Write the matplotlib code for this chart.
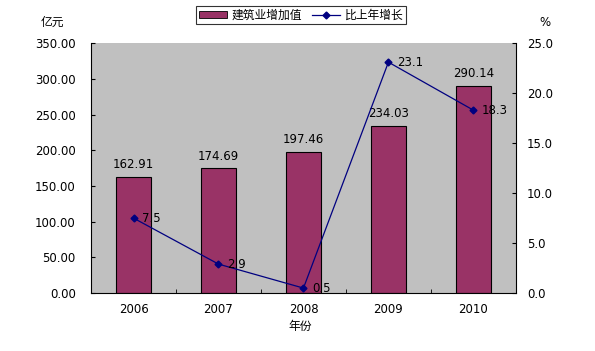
import matplotlib
matplotlib.use('Agg')
import matplotlib.pyplot as plt
from matplotlib.lines import Line2D
from matplotlib.patches import Patch
import numpy as np

plt.rcParams['font.family'] = ['DejaVu Sans', 'Noto Sans CJK SC']

years = ['2006', '2007', '2008', '2009', '2010']
value_added = [162.91, 174.69, 197.46, 234.03, 290.14]
growth = [7.5, 2.9, 0.5, 23.1, 18.3]

bar_color = '#993366'
line_color = '#000080'
fs = 8.5

fig = plt.figure(figsize=(5.95, 3.51), dpi=100)
ax = fig.add_axes([0.153, 0.165, 0.714, 0.712])
ax.set_facecolor('#C0C0C0')

x = np.arange(len(years))
ax.bar(x, value_added, width=0.41, color=bar_color, edgecolor='black', linewidth=0.8, zorder=2)
for xi, v in zip(x, value_added):
    ax.text(xi, v + 8, f'{v:.2f}', ha='center', va='bottom', fontsize=fs)

ax.set_xlim(-0.5, len(years) - 0.5)
ax.set_ylim(0, 350)
ax.set_yticks(np.arange(0, 351, 50))
ax.set_yticklabels([f'{t:.2f}' for t in np.arange(0, 351, 50)], fontsize=fs)
ax.set_xticks(x)
ax.set_xticklabels(years, fontsize=fs)
ax.tick_params(axis='x', length=0, pad=7)
ax.set_xticks(np.arange(0.5, len(years) - 1), minor=True)
ax.tick_params(axis='x', which='minor', length=3, direction='in')
ax.tick_params(axis='y', length=3, direction='in', pad=11)
for s in ['top', 'right']:
    ax.spines[s].set_visible(False)

ax2 = ax.twinx()
ax2.plot(x, growth, color=line_color, marker='D', markersize=3.5, linewidth=0.9, zorder=3)
for xi, g in zip(x, growth):
    ax2.text(xi + 0.1, g, f'{g}', ha='left', va='center', fontsize=fs)
ax2.set_ylim(0, 25)
ax2.set_yticks(np.arange(0, 26, 5))
ax2.set_yticklabels([f'{t:.1f}' for t in np.arange(0, 26, 5)], fontsize=fs)
ax2.tick_params(axis='y', length=3, direction='in', pad=8)
for s in ['top', 'left', 'bottom']:
    ax2.spines[s].set_visible(False)

fig.text(0.068, 0.935, '亿元', fontsize=fs, ha='left', va='center')
fig.text(0.916, 0.935, '%', fontsize=fs, ha='center', va='center')
fig.text(0.505, 0.07, '年份', fontsize=fs, ha='center', va='center')

handles = [Patch(facecolor=bar_color, edgecolor='black', linewidth=0.6),
           Line2D([0], [0], color=line_color, marker='D', markersize=3.5, linewidth=0.9)]
leg = fig.legend(handles, ['建筑业增加值', '比上年增长'], loc='center', bbox_to_anchor=(0.506, 0.957),
                 ncol=2, fontsize=fs, frameon=True, fancybox=False, edgecolor='black',
                 handlelength=2.4, handleheight=0.6, borderpad=0.2, columnspacing=0.8, handletextpad=0.4)
leg.get_frame().set_linewidth(0.8)

fig.savefig('out.png', dpi=100, facecolor='white')
